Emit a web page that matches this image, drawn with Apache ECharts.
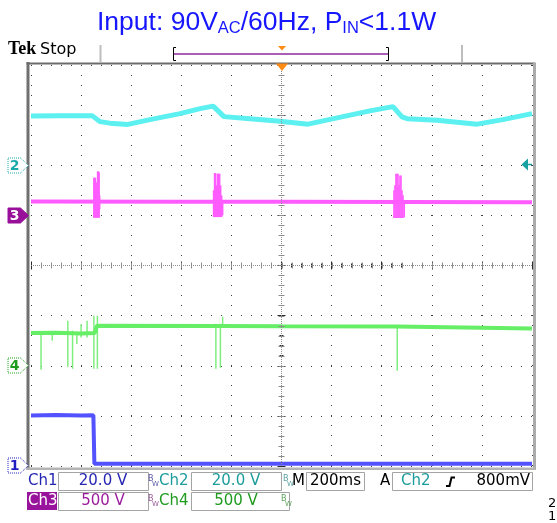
<!DOCTYPE html>
<html>
<head>
<meta charset="utf-8">
<script src="https://cdn.jsdelivr.net/npm/echarts@6/dist/echarts.min.js"></script>
<style>
  html, body { margin: 0; padding: 0; background: #fff; }
  #scope { width: 557px; height: 523px; }
</style>
</head>
<body>
<div id="scope"></div>
<script>
// Time base: 200 ms/div, 10 divisions, trigger point at 0 ms
const timeMin = -1000, timeMax = 1000, timePerDiv = 200;

// Ch1 (20 V/div): [ms, V]
const ch1 = [[-1000, 20.1], [-900, 20.3], [-800, 20.1], [-751, 20.2], [-747, 0.9], [-400, 0.9], [0, 0.9], [500, 0.9], [1000, 0.9]];

// Ch2 (20 V/div): [ms, V]
const ch2 = [
  [-1000, 19.7], [-884, 19.8], [-756, 19.8], [-725, 17.4], [-685, 16.8], [-613, 16.3],
  [-525, 18.2], [-405, 20.6], [-325, 22.6], [-273, 23.6], [-246, 21.0], [-230, 19.4],
  [-126, 18.6], [-6, 17.6], [106, 16.4], [222, 18.9], [353, 21.7], [445, 23.4],
  [481, 19.3], [501, 18.6], [621, 18.0], [781, 16.4], [884, 18.2], [1000, 20.6]
];

// Ch3 (500 V/div) resting level: [ms, V]
const ch3 = [[-1000, 138], [-400, 136], [0, 135], [500, 134], [1000, 132]];
// Ch3 switching bursts, one stroke per entry: [ms, V from, V to]
const ch3Bursts = [
  [-749, -23, 376], [-746, -23, 376], [-743, -23, 376], [-740, -23, 330], [-737, -23, 300],
  [-734, -23, 439], [-731, -23, 439], [-728, -23, 430], [-726, 60, 200],
  [-271, -17, 250], [-267, -17, 422], [-263, -17, 422], [-259, -17, 300], [-255, -17, 416],
  [-251, -17, 416], [-247, -17, 416], [-243, -17, 300], [-239, -17, 200], [-235, 0, 150],
  [449, -27, 250], [453, -27, 300], [457, -27, 416], [461, -27, 416], [465, -27, 416],
  [469, -27, 300], [473, -27, 399], [477, -27, 399], [481, -27, 250], [485, -27, 200], [490, -20, 150]
];

// Ch4 (500 V/div) level: [ms, V]
const ch4 = [[-1000, 326], [-900, 330], [-800, 322], [-745, 326], [-737, 399], [-250, 397], [0, 393], [460, 392], [466, 378], [1000, 372]];
// Ch4 glitches: [ms, V from, V to]
const ch4Spikes = [
  [-960, 330, -40], [-915, 330, 250], [-853, 449, -10], [-834, 350, -30], [-817, 316, 216],
  [-800, 416, 282], [-776, 449, 282], [-749, 499, -30], [-735, 499, -30],
  [-262, 419, -30], [-244, 419, -20], [-235, 489, 380], [462, 390, -50]
];

// Vertical scale per channel: volts/div and ground position in divisions from the bottom
const ch1Scale = { perDiv: 20, ground: 0 };
const ch2Scale = { perDiv: 20, ground: 6 };
const ch3Scale = { perDiv: 500, ground: 5 };
const ch4Scale = { perDiv: 500, ground: 2 };

// Readout texts
const readoutRow1 = ['Ch1', '20.0 V', 'Ch2', '20.0 V', 'M', '200ms', 'A', 'Ch2', '800mV'];
const readoutRow2 = ['Ch3', '500 V', 'Ch4', '500 V'];

// Colours
const C1 = '#5252ff', C2 = '#5cf0f0', C3 = '#ff5cff', C4 = '#66ee66';
const T1 = '#2626b4', T2 = '#1d9c9c', T3 = '#9c1c9e', T4 = '#1f9c1f';

// Graticule rectangle (pixels)
const L = 31, T = 65, W = 501, H = 401, R = L + W, B = T + H;
const DIV = W / 10;

const chart = echarts.init(document.getElementById('scope'), null, { renderer: 'canvas' });

function scaleAxis(s) {
  return { type: 'value', show: false, min: -s.ground * s.perDiv, max: (8 - s.ground) * s.perDiv };
}

function strokes(data, yAxisIndex, color, width) {
  return {
    type: 'custom', xAxisIndex: 0, yAxisIndex, data, silent: true, clip: true,
    encode: { x: 0, y: [1, 2] },
    renderItem(params, api) {
      const a = api.coord([api.value(0), api.value(1)]);
      const b = api.coord([api.value(0), api.value(2)]);
      return { type: 'line', shape: { x1: a[0], y1: a[1], x2: b[0], y2: b[1] },
               style: { stroke: color, lineWidth: width } };
    }
  };
}

function trace(data, yAxisIndex, color, width) {
  return { type: 'line', xAxisIndex: 0, yAxisIndex, data, showSymbol: false, symbol: 'none',
           silent: true, lineStyle: { color, width }, clip: true };
}

const tickStyle = { color: '#2a2a2a', width: 1 };
const dotGrid = { show: true, lineStyle: { color: '#3c3c3c', width: 1, type: [1, 9] } };

function edgeX(pos, split) {
  return {
    type: 'value', position: pos, min: timeMin, max: timeMax, interval: timePerDiv,
    axisLine: { show: false }, axisLabel: { show: false },
    axisTick: { show: true, inside: true, length: 4, lineStyle: tickStyle },
    minorTick: { show: true, splitNumber: 5, length: 2, lineStyle: tickStyle },
    splitLine: split ? dotGrid : { show: false }
  };
}
function edgeY(pos, split) {
  return {
    type: 'value', position: pos, min: -4, max: 4, interval: 1,
    axisLine: { show: false }, axisLabel: { show: false },
    axisTick: { show: true, inside: true, length: 4, lineStyle: tickStyle },
    minorTick: { show: true, splitNumber: 5, length: 2, lineStyle: tickStyle },
    splitLine: split ? dotGrid : { show: false }
  };
}

// Decorations: frame, centre crosshair, header, channel markers, readout
const g = [];
const cx = L + W / 2, cy = T + H / 2;
// centre crosshair
g.push({ type: 'line', shape: { x1: L, y1: cy, x2: R, y2: cy }, style: { stroke: '#8c8c8c', lineWidth: 1, lineDash: [1, 1] }, z: 5 });
g.push({ type: 'line', shape: { x1: cx, y1: T, x2: cx, y2: B }, style: { stroke: '#8c8c8c', lineWidth: 1, lineDash: [1, 1] }, z: 5 });
for (let i = 1; i < 50; i++) {
  const x = Math.round(L + i * DIV / 5) + 0.5;
  g.push({ type: 'line', shape: { x1: x, y1: cy - 3, x2: x, y2: cy + 3 }, style: { stroke: '#8c8c8c', lineWidth: 1 }, z: 5 });
}
for (let i = 1; i < 40; i++) {
  const y = Math.round(T + i * DIV / 5) + 0.5;
  g.push({ type: 'line', shape: { x1: cx - 3, y1: y, x2: cx + 3, y2: y }, style: { stroke: '#8c8c8c', lineWidth: 1 }, z: 5 });
}
// frame
g.push({ type: 'rect', shape: { x: 26.5, y: 62, width: 3, height: 408 }, style: { fill: '#707070' }, z: 20 });
g.push({ type: 'rect', shape: { x: 26.5, y: 62.5, width: 509, height: 2 }, style: { fill: '#6c6c6c' }, z: 20 });
g.push({ type: 'rect', shape: { x: 533, y: 63, width: 3, height: 407 }, style: { fill: '#ababab' }, z: 20 });
g.push({ type: 'rect', shape: { x: 26.5, y: 467.5, width: 509, height: 2.5 }, style: { fill: '#b4b4b4' }, z: 20 });
// header
g.push({ type: 'text', x: 8, y: 58, style: { text: 'Tek', font: 'bold 18px "Liberation Serif", "DejaVu Serif", serif', fill: '#000', textVerticalAlign: 'bottom', verticalAlign: 'bottom' }, z: 20 });
g.push({ type: 'text', x: 40, y: 58, style: { text: 'Stop', font: '16px "DejaVu Sans", sans-serif', fill: '#000', textVerticalAlign: 'bottom', verticalAlign: 'bottom' }, z: 20 });
g.push({ type: 'line', shape: { x1: 100.5, y1: 45, x2: 100.5, y2: 62 }, style: { stroke: '#bdbdbd', lineWidth: 2 }, z: 20 });
g.push({ type: 'line', shape: { x1: 462, y1: 45, x2: 462, y2: 62 }, style: { stroke: '#bdbdbd', lineWidth: 2 }, z: 20 });
g.push({ type: 'polyline', shape: { points: [[176, 47.5], [173.5, 47.5], [173.5, 60.5], [176, 60.5]] }, style: { stroke: '#000', lineWidth: 1, fill: null }, z: 20 });
g.push({ type: 'polyline', shape: { points: [[386, 47.5], [388.5, 47.5], [388.5, 60.5], [386, 60.5]] }, style: { stroke: '#000', lineWidth: 1, fill: null }, z: 20 });
g.push({ type: 'line', shape: { x1: 174, y1: 54, x2: 388, y2: 54 }, style: { stroke: '#8c2a9c', lineWidth: 1.5 }, z: 20 });
g.push({ type: 'polygon', shape: { points: [[278, 46], [286, 46], [282, 50.5]] }, style: { fill: '#ff8a14' }, z: 21 });
g.push({ type: 'polygon', shape: { points: [[276, 63.5], [288, 63.5], [282, 71]] }, style: { fill: '#ff8a14' }, z: 21 });
// trigger level arrow on the right
g.push({ type: 'polygon', shape: { points: [[521.5, 164.5], [528, 158.5], [528, 170.5]] }, style: { fill: '#17a0a0' }, z: 21 });
g.push({ type: 'line', shape: { x1: 527, y1: 164.5, x2: 532, y2: 164.5 }, style: { stroke: '#17a0a0', lineWidth: 1.5 }, z: 21 });

// channel ground markers
function marker(label, y, stroke, fill, textColor) {
  g.push({ type: 'polygon', shape: { points: [[8, y - 7.5], [20.5, y - 7.5], [28.5, y], [20.5, y + 7.5], [8, y + 7.5]] },
           style: { fill, stroke, lineWidth: 1, lineDash: fill === '#fff' ? [1, 1] : null }, z: 22 });
  g.push({ type: 'text', x: 14.5, y: y + 0.5, style: { text: label, font: 'bold 14px "DejaVu Sans", sans-serif', fill: textColor,
           textAlign: 'center', align: 'center', textVerticalAlign: 'middle', verticalAlign: 'middle' }, z: 23 });
}
marker('2', 165.5, '#1aa8a8', '#fff', '#1aa8a8');
marker('3', 215.5, '#98109a', '#98109a', '#fff');
marker('4', 365.5, '#1c9c1c', '#fff', '#1c9c1c');
marker('1', 465.5, '#2020c0', '#fff', '#2020c0');

// readout
const font15 = '15px "DejaVu Sans", sans-serif';
function box(x, y, w, h) {
  g.push({ type: 'rect', shape: { x: x + 0.5, y: y + 0.5, width: w, height: h }, style: { fill: '#fff', stroke: '#a4a4a4', lineWidth: 1 }, z: 20 });
}
function txt(s, x, y, color, align, font) {
  g.push({ type: 'text', x, y, style: { text: s, font: font || font15, fill: color, textAlign: align || 'left', align: align || 'left',
           textVerticalAlign: 'middle', verticalAlign: 'middle' }, z: 21 });
}
function bw(x, y, color) {
  txt('B', x, y - 3, color, 'left', '8px "DejaVu Sans", sans-serif');
  txt('W', x + 4, y + 3, color, 'left', '7px "DejaVu Sans", sans-serif');
}
const r1 = 481.5, r2 = 501.5;
txt(readoutRow1[0], 28, r1, T1);
box(58, 472, 90, 18); txt(readoutRow1[1], 103, r1, T1, 'center');
bw(148, r1, '#5a5aa8');
txt(readoutRow1[2], 159, r1, T2);
box(191, 472, 90, 18); txt(readoutRow1[3], 236, r1, T2, 'center');
bw(283, r1, '#5aa0a0');
txt(readoutRow1[4], 292, r1, '#000');
box(306, 472, 58, 18); txt(readoutRow1[5], 335.5, r1, '#000', 'center');
txt(readoutRow1[6], 380, r1, '#000');
box(392, 472, 140, 18); txt(readoutRow1[7], 401, r1, T2);
g.push({ type: 'polyline', shape: { points: [[446, 486], [449.5, 486], [451.5, 477.5], [455, 477.5]] }, style: { stroke: '#000', lineWidth: 2, fill: null }, z: 21 });
txt(readoutRow1[8], 530, r1, '#000', 'right');

g.push({ type: 'rect', shape: { x: 27, y: 492, width: 30, height: 18 }, style: { fill: '#98149c' }, z: 20 });
txt(readoutRow2[0], 28, r2, '#fff');
box(58, 492, 90, 18); txt(readoutRow2[1], 103, r2, T3, 'center');
bw(148, r2, '#9a5a9a');
txt(readoutRow2[2], 159, r2, T4);
box(191, 492, 98, 18); txt(readoutRow2[3], 236, r2, T4, 'center');
bw(281, r2, '#5aa05a');
txt('2', 548, 504, '#000', 'left', '13px "DejaVu Sans", sans-serif');
txt('1', 548, 517, '#000', 'left', '13px "DejaVu Sans", sans-serif');

const titleFont = '"Liberation Sans", Arial, sans-serif';
const option = {
  animation: false,
  backgroundColor: '#fff',
  title: {
    left: 97, top: 9, padding: 0,
    text: '{m|Input: 90V}{s|AC}{m|/60Hz, P}{s|IN}{m|<1.1W}',
    textStyle: {
      fontWeight: 'normal',
      rich: {
        m: { fontSize: 26.5, fontFamily: titleFont, fontWeight: 'normal', color: '#1616ff', lineHeight: 28 },
        s: { fontSize: 16.5, fontFamily: titleFont, fontWeight: 'normal', color: '#1616ff', verticalAlign: 'bottom', lineHeight: 28 }
      }
    }
  },
  grid: { left: L, top: T, width: W, height: H, containLabel: false },
  xAxis: [edgeX('bottom', true), edgeX('top', false)],
  yAxis: [edgeY('left', true), edgeY('right', false),
          scaleAxis(ch1Scale), scaleAxis(ch2Scale), scaleAxis(ch3Scale), scaleAxis(ch4Scale)],
  series: [
    trace(ch3, 4, C3, 4),
    strokes(ch3Bursts, 4, C3, 1.6),
    trace(ch2, 3, C2, 5),
    strokes(ch4Spikes, 5, '#7fee7f', 1.5),
    trace(ch4, 5, C4, 4),
    trace(ch1, 2, C1, 4)
  ],
  graphic: { elements: g }
};
chart.setOption(option);
</script>
</body>
</html>
